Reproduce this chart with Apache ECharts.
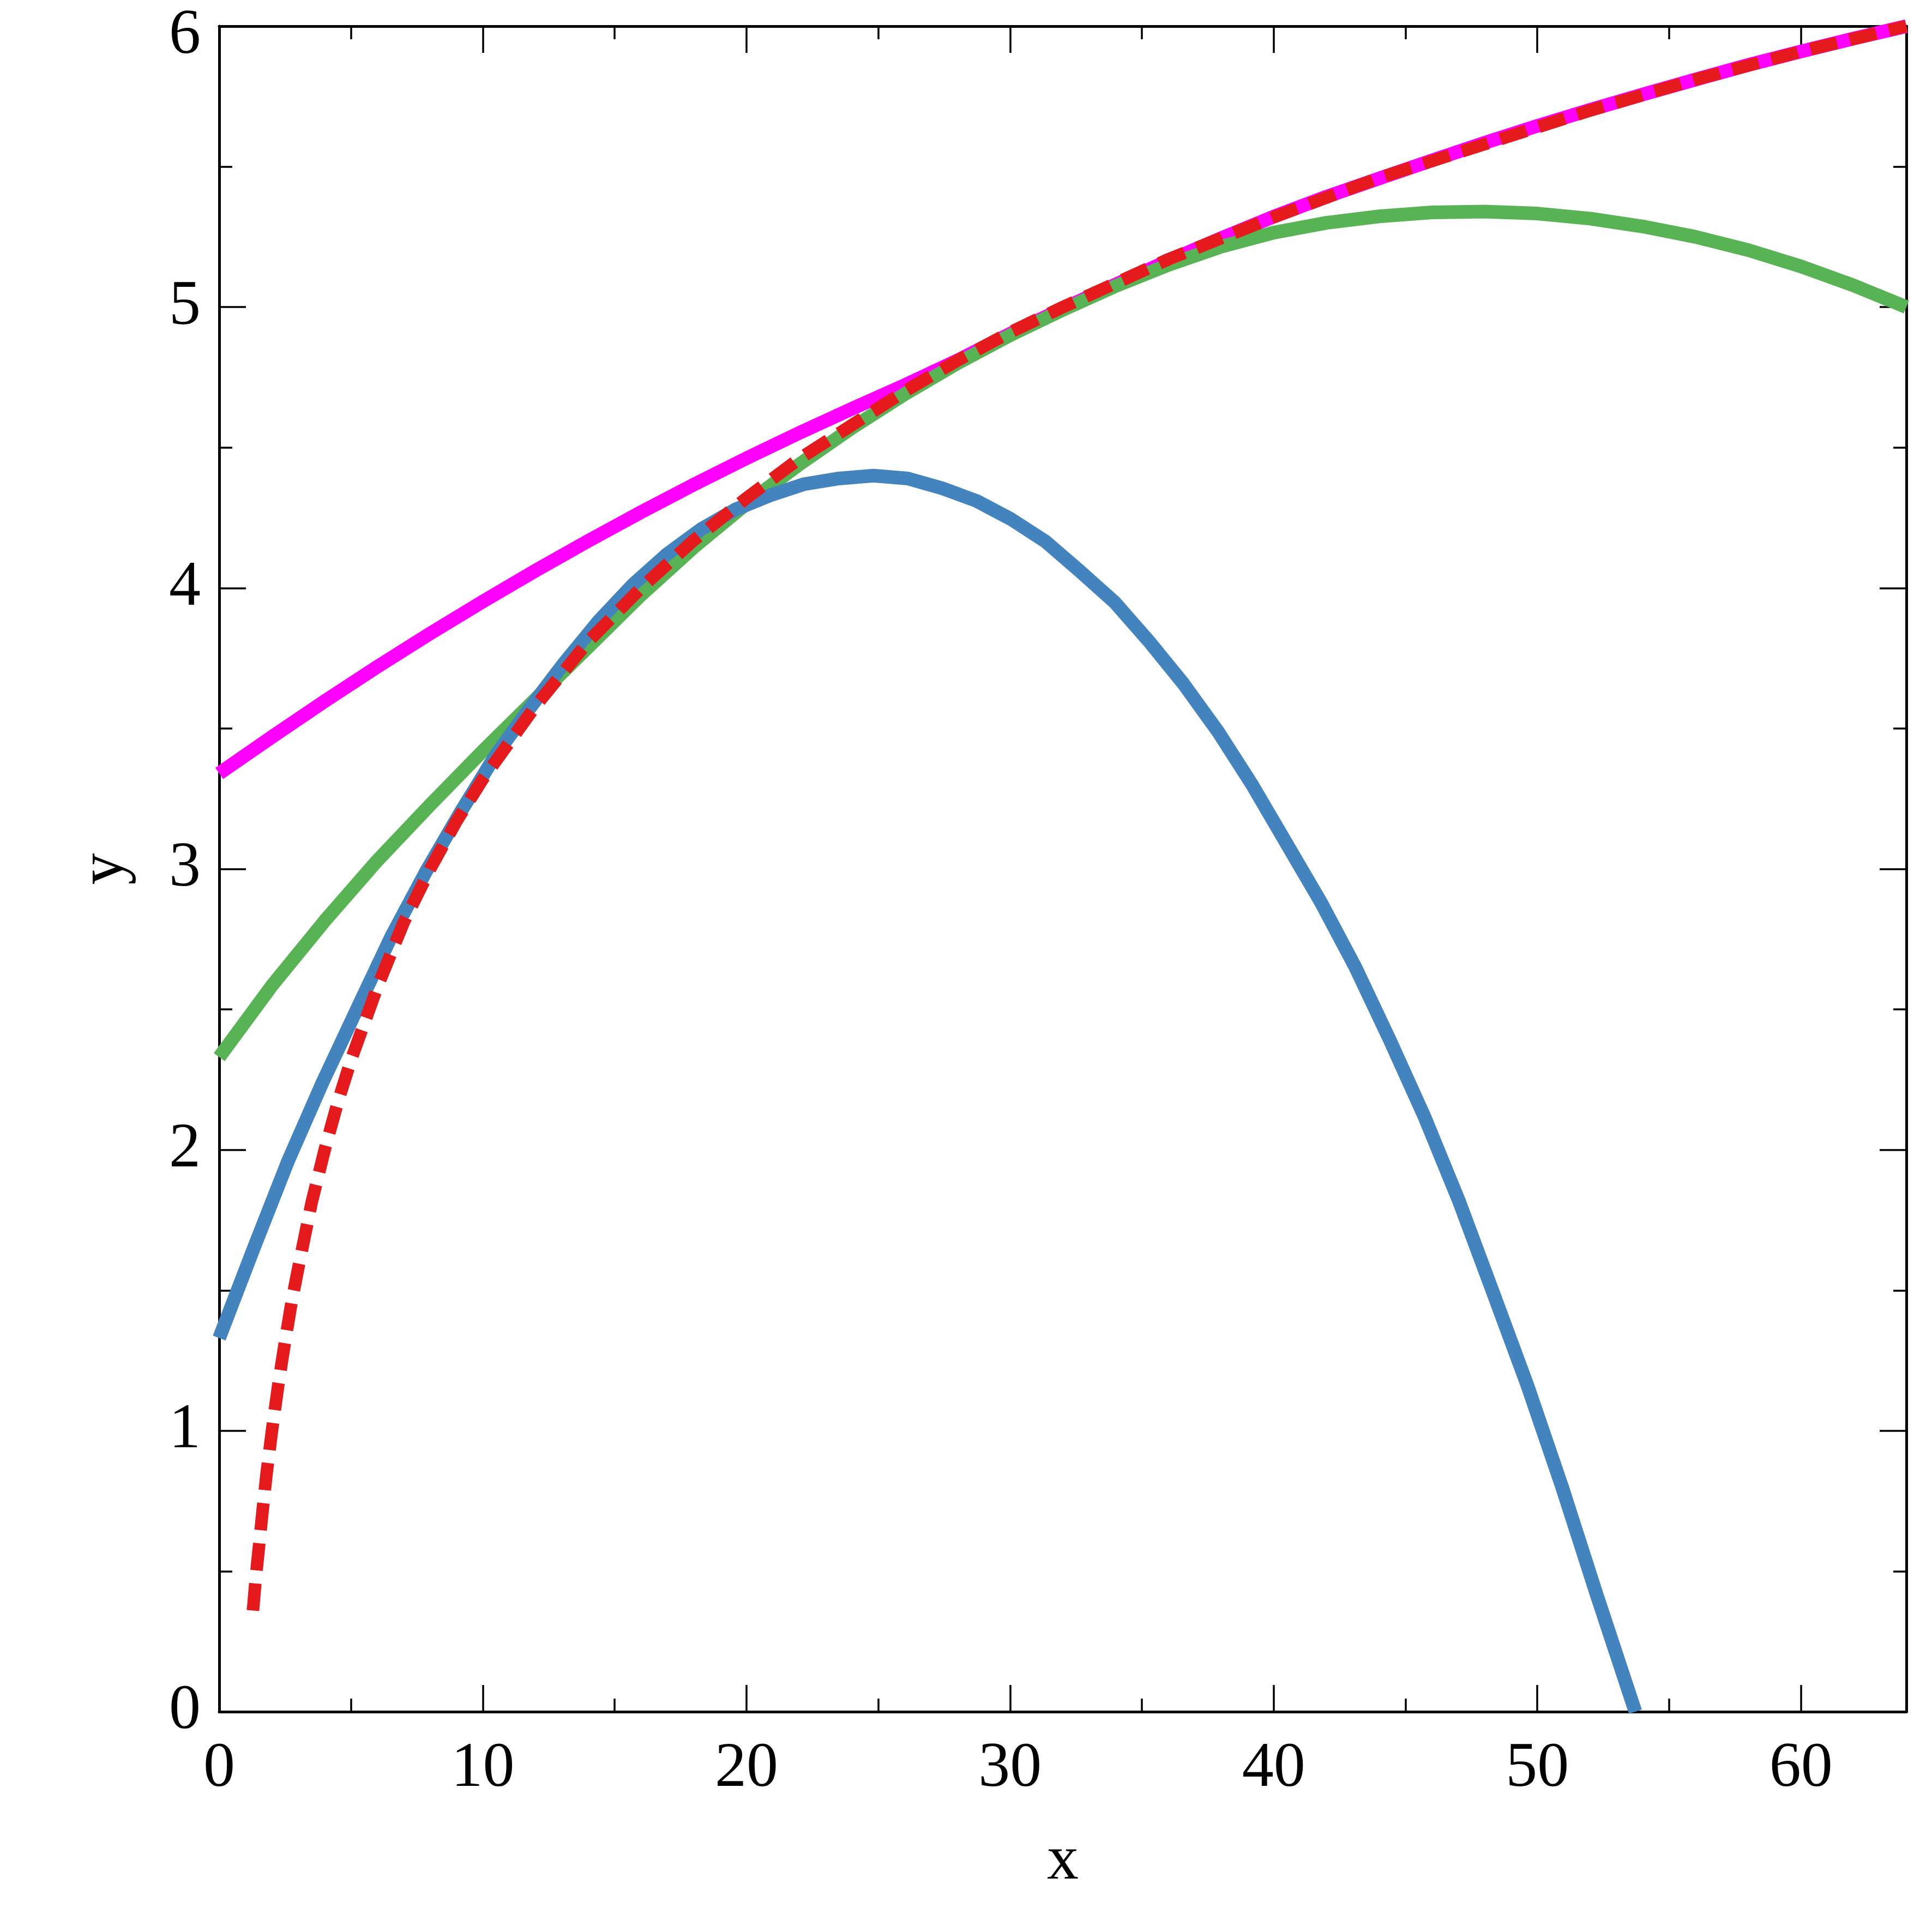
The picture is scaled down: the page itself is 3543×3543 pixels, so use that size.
<!DOCTYPE html>
<html><head><meta charset="utf-8">
<script src="https://cdn.jsdelivr.net/npm/echarts@6/dist/echarts.min.js"></script>
<style>html,body{margin:0;padding:0;background:#fff}#c{width:3543px;height:3543px}</style>
</head><body><div id="c"></div>
<script>
// ---- data ----
const redX = [1.28,1.4,1.5,1.65,1.8,2,2.25,2.5,2.75,3,3.5,4,4.5,5,6,7,8,9,10,12,14,16,18,20,22,24,26,28,30,32,36,40,44,48,52,56,60,64];
const redY = [0.36,0.49,0.58,0.72,0.85,1.00,1.17,1.32,1.46,1.58,1.81,2.00,2.17,2.32,2.58,2.81,3.00,3.17,3.32,3.58,3.81,4.00,4.17,4.32,4.46,4.58,4.70,4.81,4.91,5.00,5.17,5.32,5.46,5.58,5.70,5.81,5.91,6.00];

const blueX = [0,1.31,2.61,3.92,5.22,6.53,7.84,9.14,10.45,11.76,13.06,14.37,15.67,16.98,18.29,19.59,20.9,22.2,23.51,24.82,26.12,27.43,28.73,30.04,31.35,32.65,33.96,35.27,36.57,37.88,39.18,40.49,41.8,43.1,44.41,45.71,47.02,48.33,49.63,50.94,52.24,53.72];
const blueY = [1.33,1.65,1.96,2.24,2.50,2.76,2.99,3.20,3.40,3.57,3.73,3.88,4.01,4.12,4.21,4.28,4.33,4.37,4.39,4.40,4.39,4.355,4.31,4.245,4.165,4.06,3.95,3.81,3.66,3.49,3.30,3.09,2.88,2.65,2.39,2.12,1.82,1.49,1.16,0.80,0.42,0.00];

const greenX = [0,2,4,6,8,10,12,14,16,18,20,22,24,26,28,30,32,34,36,38,40,42,44,46,48,50,52,54,56,58,60,62,64];
const greenY = [2.33,2.585,2.815,3.03,3.228,3.42,3.605,3.79,3.975,4.145,4.30,4.44,4.57,4.69,4.80,4.90,4.99,5.075,5.15,5.215,5.265,5.30,5.323,5.337,5.34,5.333,5.315,5.287,5.25,5.203,5.145,5.077,5.00];

const magentaX = [0,2,4,6,8,10,12,14,16,18,20,22,24,26,28,30,32,34,36,38,40,42,44,46,48,50,52,54,56,58,60,62,64];
const magentaY = [3.34,3.47,3.597,3.72,3.838,3.952,4.062,4.168,4.27,4.368,4.462,4.552,4.638,4.722,4.81,4.905,4.995,5.08,5.165,5.245,5.322,5.393,5.458,5.522,5.585,5.645,5.702,5.757,5.81,5.862,5.91,5.956,6.00];

const xMajorTicks = [0,10,20,30,40,50,60];
const yMajorTicks = [0,1,2,3,4,5,6];

// ---- chart ----
function pairs(xs, ys){ return xs.map((x,i)=>[x, ys[i]]); }
const font = {fontFamily:'Liberation Serif', fontSize:116, color:'#000'};
const axLine = {onZero:false, lineStyle:{color:'#000', width:5}};
function xAx(pos, major){
  return {
    type:'value', position:pos, min:0, max:64, interval: major?10:5,
    axisLine: major ? axLine : {show:false, onZero:false},
    axisTick:{show:true, inside:true, length: major?49:24, lineStyle:{color:'#000', width:3.5}},
    axisLabel: (major && pos==='bottom') ? Object.assign({margin:48, formatter: v => xMajorTicks.includes(v) ? String(v) : ''}, font) : {show:false},
    splitLine:{show:false},
    name: (major && pos==='bottom') ? 'x' : '',
    nameLocation:'middle', nameGap:218, nameTextStyle: font
  };
}
function yAx(pos, major){
  return {
    type:'value', position:pos, min:0, max:6, interval: major?1:0.5,
    axisLine: major ? axLine : {show:false, onZero:false},
    axisTick:{show:true, inside:true, length: major?49:24, lineStyle:{color:'#000', width:3.5}},
    axisLabel: (major && pos==='left') ? Object.assign({
      margin:34,
      formatter: v => yMajorTicks.includes(v) ? (v === yMajorTicks[yMajorTicks.length-1] ? '{t|' + v + '}' : String(v)) : '',
      rich:{t:Object.assign({padding:[38,0,0,0]}, font)}
    }, font) : {show:false},
    splitLine:{show:false},
    name: (major && pos==='left') ? 'y' : '',
    nameLocation:'middle', nameGap:150, nameTextStyle: font
  };
}
function ser(name, xs, ys, color, width, type){
  return {
    name, type:'line', xAxisIndex:0, yAxisIndex:0, data: pairs(xs, ys),
    showSymbol:false, symbol:'none', smooth:false,
    lineStyle:{color, width, type: type || 'solid', cap:'butt', join:'round'}
  };
}
const chart = echarts.init(document.getElementById('c'), null, {renderer:'canvas'});
chart.setOption({
  animation:false,
  backgroundColor:'#fff',
  grid:{left:402, right:47, top:48, bottom:404, containLabel:false},
  xAxis:[xAx('bottom',true), xAx('bottom',false), xAx('top',true), xAx('top',false)],
  yAxis:[yAx('left',true), yAx('left',false), yAx('right',true), yAx('right',false)],
  series:[
    ser('magenta', magentaX, magentaY, '#FF00FF', 25),
    ser('green', greenX, greenY, '#57B354', 25),
    ser('blue', blueX, blueY, '#4383BE', 25),
    ser('red', redX, redY, '#E41A1C', 23, [50,24])
  ]
});
</script></body></html>
